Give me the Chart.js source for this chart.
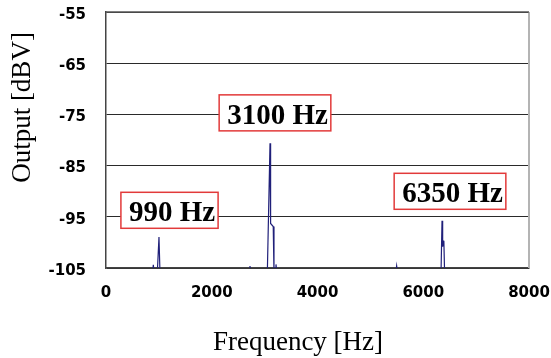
<!DOCTYPE html>
<html>
<head>
<meta charset="utf-8">
<script src="https://cdn.jsdelivr.net/npm/chart.js@4/dist/chart.umd.min.js"></script>
<style>
  html, body { margin: 0; padding: 0; background: #ffffff; }
  #wrap { width: 551px; height: 358px; }
</style>
</head>
<body>
<div id="wrap"><canvas id="c" width="551" height="358"></canvas></div>
<script>
// ---- data ----
const frequencyHz = [0, 880, 895, 910, 970, 1002, 1021, 2705, 2723, 2740, 3051, 3102, 3113, 3163, 3177, 3200, 3215, 3230, 5480, 5497, 5515, 6336, 6355, 6367, 6378, 6390, 6404, 8000];
const outputDbv   = [-106, -106, -104.4, -106, -106, -98.95, -106, -106, -104.6, -106, -106, -80.64, -96.3, -96.9, -106, -106, -104.3, -106, -106, -104.6, -106, -106, -95.76, -100.84, -99.7, -99.8, -106, -106];
const xTicks = [0, 2000, 4000, 6000, 8000];
const yTicks = [-105, -95, -85, -75, -65, -55];
const peakLabelTexts = ['990 Hz', '3100 Hz', '6350 Hz'];
const xTitle = 'Frequency [Hz]';
const yTitle = 'Output [dBV]';

// layout anchors for the label boxes (centre, in axis units)
const labelAnchors = [
  { x: 1201, y: -93.73 },
  { x: 3196, y: -74.70 },
  { x: 6506, y: -90.02 }
];

const points = frequencyHz.map((f, i) => ({ x: f, y: outputDbv[i] }));

function zeroPadding(s) {
  s.paddingTop = 0; s.paddingBottom = 0; s.paddingLeft = 0; s.paddingRight = 0;
}

const framePlugin = {
  id: 'frame',
  afterDatasetsDraw(chart) {
    const { ctx, chartArea: a } = chart;
    ctx.save();
    ctx.strokeStyle = '#b4b4b4';
    ctx.lineWidth = 2;
    ctx.beginPath();
    ctx.moveTo(a.right, a.top);
    ctx.lineTo(a.right, a.bottom);
    ctx.stroke();
    ctx.strokeStyle = '#555555';
    ctx.lineWidth = 1.5;
    ctx.beginPath();
    ctx.moveTo(a.left, a.top);
    ctx.lineTo(a.right, a.top);
    ctx.stroke();
    ctx.restore();
  }
};

const axisTitlePlugin = {
  id: 'axisTitles',
  afterDraw(chart) {
    const { ctx } = chart;
    ctx.save();
    ctx.fillStyle = '#000000';
    ctx.font = '27px "Liberation Serif", "Times New Roman", serif';
    ctx.textAlign = 'center';
    ctx.textBaseline = 'alphabetic';
    ctx.fillText(xTitle, 298, 350);
    ctx.translate(29.5, 107.5);
    ctx.rotate(-Math.PI / 2);
    ctx.fillText(yTitle, 0, 0);
    ctx.restore();
  }
};

const peakLabelPlugin = {
  id: 'peakLabels',
  afterDraw(chart) {
    const { ctx } = chart;
    const xs = chart.scales.x, ys = chart.scales.y;
    ctx.save();
    ctx.font = 'bold 29px "Liberation Serif", "Times New Roman", serif';
    ctx.textBaseline = 'alphabetic';
    peakLabelTexts.forEach((t, i) => {
      const cx = xs.getPixelForValue(labelAnchors[i].x);
      const cy = ys.getPixelForValue(labelAnchors[i].y);
      const tw = ctx.measureText(t).width;
      const w = tw + 11, h = 36;
      const left = cx - w / 2, top = cy - h / 2;
      ctx.fillStyle = '#ffffff';
      ctx.fillRect(left, top, w, h);
      ctx.strokeStyle = '#e23a3a';
      ctx.lineWidth = 1.5;
      ctx.strokeRect(left, top, w, h);
      ctx.fillStyle = '#000000';
      ctx.fillText(t, left + 8, top + 29);
    });
    ctx.restore();
  }
};

new Chart(document.getElementById('c'), {
  type: 'line',
  data: {
    datasets: [{
      data: points,
      borderColor: '#20207a',
      borderWidth: 1.2,
      pointRadius: 0,
      tension: 0,
      fill: false
    }]
  },
  options: {
    responsive: false,
    animation: false,
    devicePixelRatio: 1,
    layout: { padding: { top: 12, right: 22, left: 0, bottom: 0 } },
    plugins: { legend: { display: false }, tooltip: { enabled: false } },
    scales: {
      x: {
        type: 'linear',
        min: 0, max: 8000,
        afterFit(s) { s.height = 90; zeroPadding(s); },
        afterBuildTicks(s) { s.ticks = xTicks.map(v => ({ value: v })); },
        grid: { display: false, drawTicks: false },
        border: { display: true, color: '#444444', width: 1.5 },
        ticks: {
          padding: 16,
          color: '#000000',
          font: { family: '"DejaVu Sans", sans-serif', size: 15, weight: 'bold' },
          maxRotation: 0,
          callback: v => String(v)
        },
        title: { display: false, text: xTitle }
      },
      y: {
        type: 'linear',
        min: -105, max: -55,
        afterFit(s) { s.width = 106; zeroPadding(s); },
        afterBuildTicks(s) { s.ticks = yTicks.map(v => ({ value: v })); },
        grid: { color: '#2a2a2a', lineWidth: 1, drawTicks: false },
        border: { display: true, color: '#444444', width: 1.5 },
        ticks: {
          padding: 20,
          labelOffset: 3,
          color: '#000000',
          font: { family: '"DejaVu Sans", sans-serif', size: 15, weight: 'bold' },
          callback: v => String(v)
        },
        title: { display: false, text: yTitle }
      }
    }
  },
  plugins: [framePlugin, peakLabelPlugin, axisTitlePlugin]
});
</script>
</body>
</html>
